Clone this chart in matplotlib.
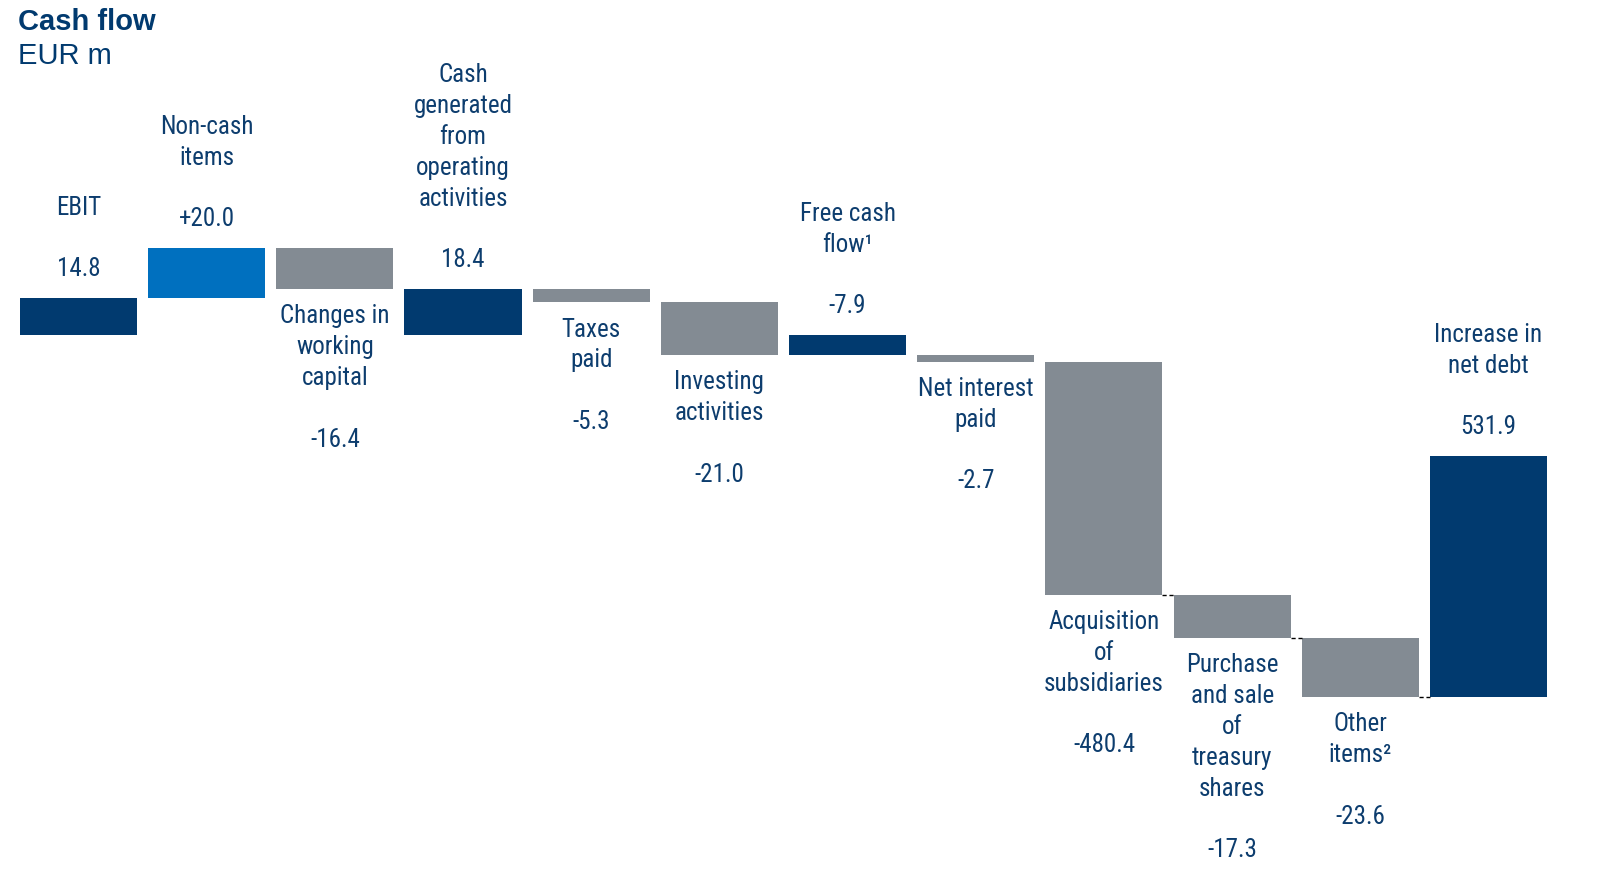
import matplotlib.pyplot as plt
from matplotlib import font_manager

# ── Data ─────────────────────────────────────────────────────────────────────
labels = [
    "EBIT", "Non-cash\nitems", "Changes in\nworking\ncapital",
    "Cash\ngenerated\nfrom\noperating\nactivities", "Taxes\npaid",
    "Investing\nactivities", "Free cash\nflow¹", "Net interest\npaid",
    "Acquisition\nof\nsubsidiaries", "Purchase\nand sale\nof\ntreasury\nshares",
    "Other\nitems²", "Increase in\nnet debt",
]
values = [14.8, 20.0, -16.4, 18.4, -5.3, -21.0, -7.9, -2.7, -480.4, -17.3, -23.6, 531.9]
value_text = ["14.8", "+20.0", "-16.4", "18.4", "-5.3", "-21.0", "-7.9", "-2.7",
              "-480.4", "-17.3", "-23.6", "531.9"]
# "total" bars start at zero, "delta" bars continue from the running sum,
# "end" bar rises back from the final running sum
kinds = ["total", "delta", "delta", "total", "delta", "delta", "total", "delta",
         "delta", "delta", "delta", "end"]

# ── Style ────────────────────────────────────────────────────────────────────
NAVY = "#013a6f"
BLUE = "#0070bf"
GRAY = "#838b93"
TEXT = "#0d3d6e"
BREAK, SQUEEZE = 68.5, 0.0602   # axis break: big values drawn compressed

installed = {f.name for f in font_manager.fontManager.ttflist}
narrow = next((n for n in ["Arial Narrow", "Liberation Sans Narrow", "Roboto Condensed",
                           "PT Sans Narrow", "Archivo Narrow", "Barlow Semi Condensed"]
               if n in installed), "Liberation Sans")
plt.rcParams["font.family"] = [narrow, "DejaVu Sans"]


def shown(v):
    a = abs(v)
    if a > BREAK * 2:
        a = BREAK + (a - BREAK) * SQUEEZE
    return a if v >= 0 else -a


fig = plt.figure(figsize=(16.09, 8.85), dpi=100)
ax = fig.add_axes([0, 0, 1, 1])
ax.set_xlim(-0.612, 11.94)
ax.set_ylim(-220, 134)
ax.axis("off")

W = 0.913
running = 0.0
bottoms = []
for i, (v, k) in enumerate(zip(values, kinds)):
    h = shown(v)
    if k == "total":
        lo, hi = sorted([0.0, h])
        running = h
        color = NAVY
    elif k == "delta":
        lo, hi = sorted([running, running + h])
        running += h
        color = BLUE if v > 0 else GRAY
    else:
        lo, hi = running, running + h
        color = NAVY
    ax.bar(i, hi - lo, bottom=lo, width=W, color=color, edgecolor="none")
    bottoms.append(lo)

    txt = labels[i] + "\n\n" + value_text[i]
    if k == "delta" and v < 0:
        ax.annotate(txt, (i, lo), xytext=(0, -11), textcoords="offset points",
                    ha="center", va="top", fontsize=18, color=TEXT, linespacing=1.36)
    else:
        ax.annotate(txt, (i, hi), xytext=(0, 12), textcoords="offset points",
                    ha="center", va="bottom", fontsize=18, color=TEXT, linespacing=1.36)

# dashed connectors on the lower steps
for i in (8, 9, 10):
    ax.plot([i + W / 2, i + 1 - W / 2], [bottoms[i], bottoms[i]],
            color="black", lw=1, ls=(0, (3, 2)))

fig.text(0.011, 0.975, "Cash flow", fontsize=21, fontweight="bold", color=NAVY,
         family=["Liberation Sans", "DejaVu Sans"], va="center")
fig.text(0.011, 0.937, "EUR m", fontsize=21, color=NAVY,
         family=["Liberation Sans", "DejaVu Sans"], va="center")

fig.savefig("out.png", dpi=100)
